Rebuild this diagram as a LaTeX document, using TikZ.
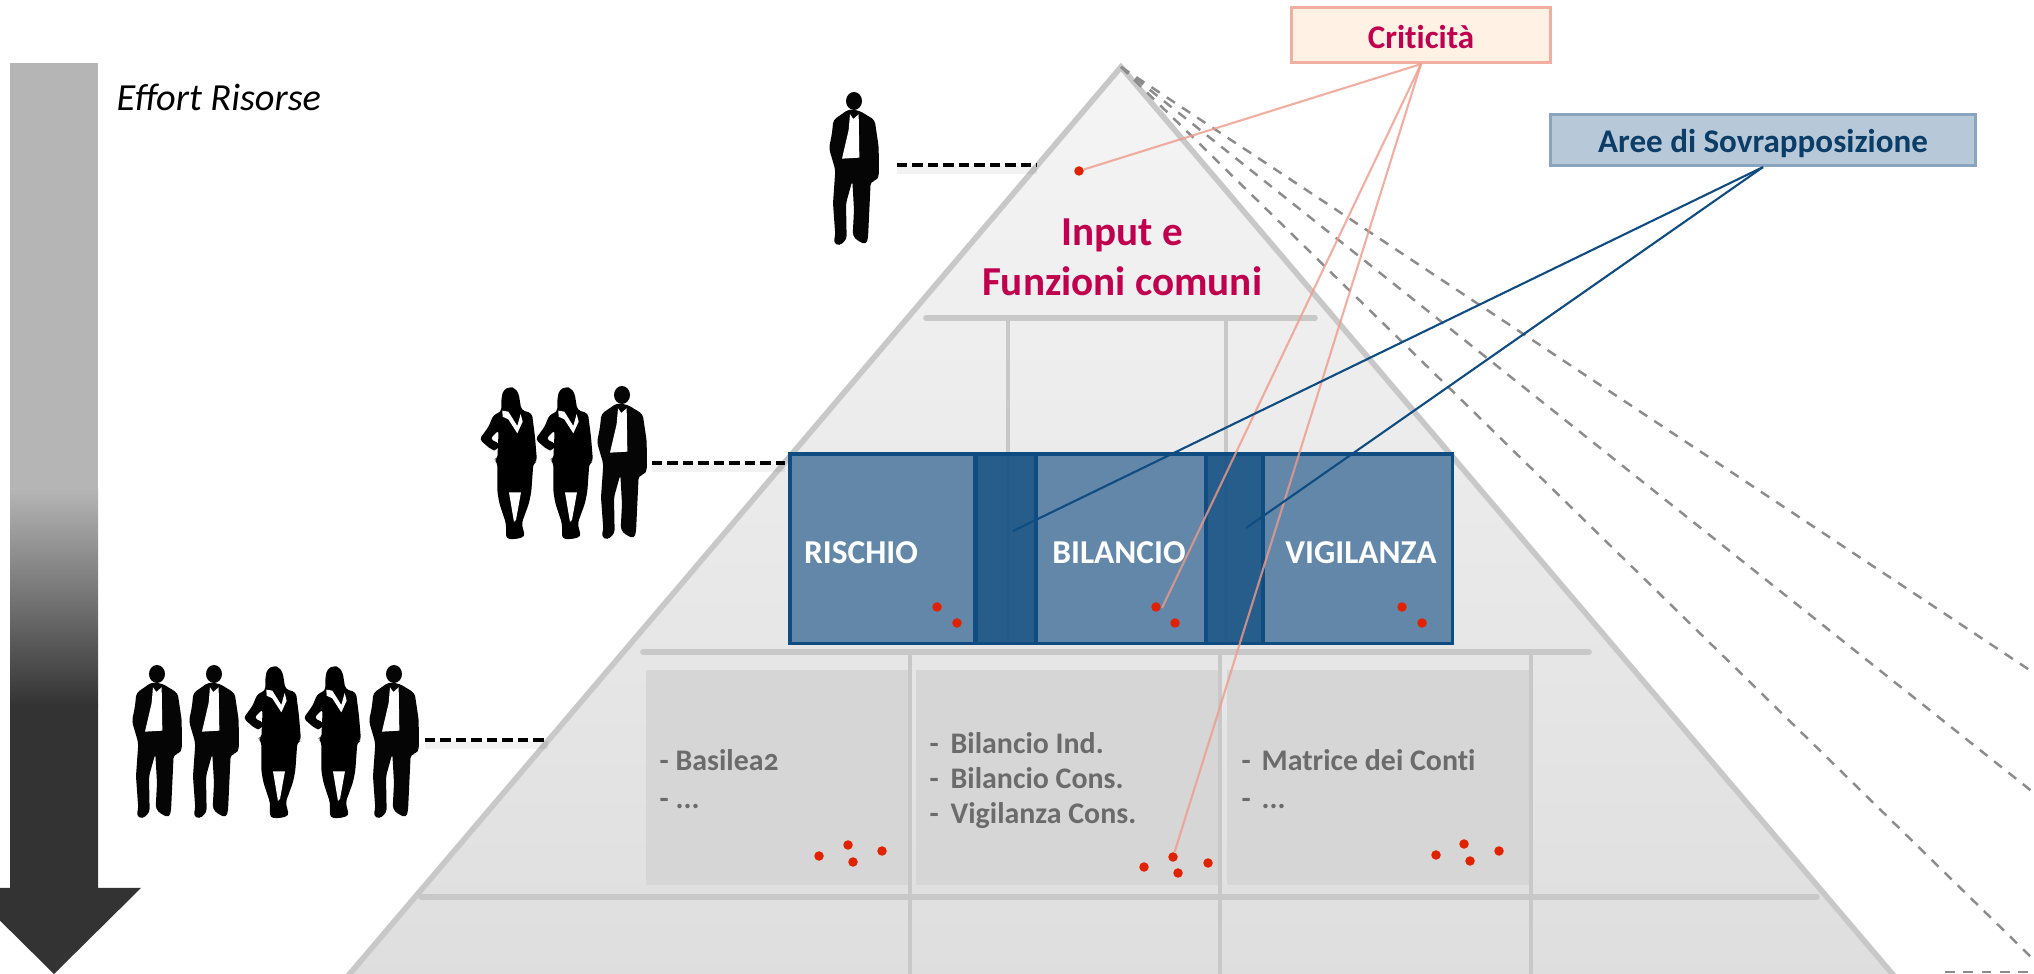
\documentclass[tikz,border=0pt]{standalone}
\usepackage{fontspec}
\setmainfont{Carlito}[Ligatures=NoCommon]
\usetikzlibrary{positioning}
\definecolor{pyrline}{HTML}{C8C8C8}
\definecolor{boxblue}{HTML}{6287A9}
\definecolor{boxdark}{HTML}{275D8B}
\definecolor{boxline}{HTML}{0F4C81}
\definecolor{cellgray}{HTML}{D6D6D6}
\definecolor{itemgray}{HTML}{6B6B6B}
\definecolor{dotred}{HTML}{E02200}
\definecolor{crimson}{HTML}{C0004E}
\definecolor{salmon}{HTML}{EF9A8A}
\tikzset{
	dotnode/.style={circle, fill=dotred, inner sep=0pt, minimum size=0.095cm},
	rulegray/.style={draw=pyrline, line width=1.6pt, line cap=round},
	stemgray/.style={draw=pyrline, line width=1.2pt},
	celbox/.style={fill=cellgray, inner sep=0pt, anchor=north west},
	regionbox/.style={draw=boxline, line width=0.9pt, inner sep=0pt, outer sep=0pt, anchor=north west},
	regiontext/.style={text=white, font=\fontsize{9.5}{11}\selectfont\bfseries},
	itemtext/.style={text=itemgray, anchor=base west, inner sep=0pt, font=\fontsize{8.5}{10}\selectfont\bfseries},
	tielink/.style={draw=black, line width=1.3pt, dash pattern=on 2.9pt off 1.5pt},
	tieshade/.style={draw=black, opacity=0.05, line width=2.4pt},
	rayline/.style={draw=black!45, line width=0.7pt, dash pattern=on 2.8pt off 2.4pt},
	pinklink/.style={draw=salmon, opacity=0.8, line width=0.6pt},
	bluelink/.style={draw=boxline, line width=0.6pt},
	manfig/.pic={
		\begin{scope}[scale=0.3333]
			\fill[black!98] (162,93) ellipse (24 and 27);
			\fill[black!98, rounded corners=1pt] (146,118) -- (100,150) -- (96,190) -- (87,235) -- (106,300)
				-- (99,400) -- (106,498) -- (100,518) -- (118,528) -- (140,508) -- (138,400) -- (157,332)
				-- (162,420) -- (158,497) -- (172,512) -- (198,524) -- (204,505) -- (212,335) -- (228,332)
				-- (237,318) -- (236,230) -- (224,150) -- (178,122) -- cycle;
			\fill[white] (150,133) -- (160,147) -- (176,133) -- (178,263) -- (126,266) -- (146,180) -- cycle;
		\end{scope}
	},
	womanfig/.pic={
		\begin{scope}[scale=0.3333]
			\fill[black, rounded corners=1pt] (210,50) -- (190,60) -- (184,85) -- (184,125) -- (160,135) -- (146,170)
				-- (118,208) -- (155,240) -- (170,242) -- (180,222) -- (150,207) -- (176,180) -- (172,268)
				-- (162,268) -- (172,278) -- (172,365) -- (178,400) -- (198,460) -- (198,506) -- (226,508)
				-- (255,500) -- (245,460) -- (267,400) -- (274,365) -- (280,280) -- (291,274) -- (285,200)
				-- (276,130) -- (244,120) -- (236,70) -- (225,55) -- cycle;
			\fill[white] (187,122) -- (205,125) -- (232,168) -- (242,132) -- (248,155) -- (232,190) -- (205,148) -- (188,140) -- cycle;
			\fill[white] (207,367) -- (243,367) -- (228,450) -- (222,456) -- cycle;
		\end{scope}
	}
}
\begin{document}
\begin{tikzpicture}[x=0.01cm, y=-0.01cm]
	\useasboundingbox (0,0) rectangle (2034,974);
	% left arrow
	\fill[black!29] (10,63) rectangle (98,490);
	\shade[top color=black!29, bottom color=black!80] (10,489) rectangle (98,706);
	\fill[black!80] (10,705) -- (98,705) -- (98,888) -- (141,888) -- (54,974) -- (-33,888) -- (10,888) -- cycle;
	\node[anchor=base west, inner sep=0pt, font=\fontsize{10.9}{12}\selectfont\itshape\addfontfeatures{Ligatures=Common}] (effort) at (116,111) {Effort Risorse};
	% pyramid
	\coordinate (apex) at (1121,67);
	\draw[pyrline, line width=1.6pt, line join=miter, top color=black!4, bottom color=black!13] (apex) -- (1906,990) -- (336,990) -- cycle;
	\draw[rulegray] (926,318) -- (1315,318);
	\draw[stemgray] (1008,320) -- (1008,456);
	\draw[stemgray] (1226,320) -- (1226,456);
	\draw[rulegray] (643,652) -- (1589,652);
	\draw[rulegray] (421,897) -- (1817,897);
	\node[celbox, minimum width=2.63cm, minimum height=2.15cm] (cellA) at (645,669) {};
	\node[celbox, minimum width=3.03cm, minimum height=2.15cm] (cellB) at (915,669) {};
	\node[celbox, minimum width=3.05cm, minimum height=2.15cm] (cellC) at (1226,669) {};
	\draw[stemgray] (910,654) -- (910,974);
	\draw[stemgray] (1220,654) -- (1220,974);
	\draw[stemgray] (1531,654) -- (1531,974);
	% region boxes
	\node[regionbox, fill=boxblue, minimum width=2.45cm, minimum height=1.89cm] (rischio) at (790,454) {};
	\node[regionbox, fill=boxblue, minimum width=2.46cm, minimum height=1.89cm] (vigilanza) at (1206,454) {};
	\node[regionbox, fill=boxblue, minimum width=2.88cm, minimum height=1.89cm] (bilancio) at (975,454) {};
	\node[regionbox, fill=boxdark, minimum width=0.60cm, minimum height=1.89cm] (overA) at (976,454) {};
	\node[regionbox, fill=boxdark, minimum width=0.57cm, minimum height=1.89cm] (overB) at (1206,454) {};
	\draw[stemgray, draw=boxline, opacity=0.15] (1008,456) -- (1008,641);
	\draw[stemgray, draw=boxline, opacity=0.15] (1226,456) -- (1226,641);
	\node[regiontext] (rischiolab) at (861,553) {RISCHIO};
	\node[regiontext] (bilanciolab) at (1119,553) {BILANCIO};
	\node[regiontext] (vigilanzalab) at (1361,553) {VIGILANZA};
	% texts
	\node[align=center, text=crimson, font=\fontsize{11.7}{14.2}\selectfont\bfseries] (inputlab) at (1122,257) {Input e\\Funzioni comuni};
	\node[itemtext] (itemAa) at (659,771) {- Basilea{\addfontfeatures{Numbers=OldStyle}2}};
	\node[itemtext] (itemAb) at (659,809) {- ...};
	\node[itemtext] (itemBa) at (929,754) {-};
	\node[itemtext] (itemBb) at (950,754) {Bilancio Ind.};
	\node[itemtext] (itemBc) at (929,789) {-};
	\node[itemtext] (itemBd) at (950,789) {Bilancio Cons.};
	\node[itemtext] (itemBe) at (929,824) {-};
	\node[itemtext] (itemBf) at (950,824) {Vigilanza Cons.};
	\node[itemtext] (itemCa) at (1241,771) {-};
	\node[itemtext] (itemCb) at (1261,771) {Matrice dei Conti};
	\node[itemtext] (itemCc) at (1241,809) {-};
	\node[itemtext] (itemCd) at (1261,809) {...};
	% red dots
	\node[dotnode] (dotTop) at (1079,171) {};
	\node[dotnode] (dotRa) at (937,607) {};
	\node[dotnode] (dotRb) at (957,623) {};
	\node[dotnode] (dotBa) at (1156,607) {};
	\node[dotnode] (dotBb) at (1175,623) {};
	\node[dotnode] (dotVa) at (1402,607) {};
	\node[dotnode] (dotVb) at (1422,623) {};
	\node[dotnode] (dotAa) at (819,856) {};
	\node[dotnode] (dotAb) at (848,845) {};
	\node[dotnode] (dotAc) at (853,862) {};
	\node[dotnode] (dotAd) at (882,851) {};
	\node[dotnode] (dotCa) at (1144,867) {};
	\node[dotnode] (dotCb) at (1173,857) {};
	\node[dotnode] (dotCc) at (1178,873) {};
	\node[dotnode] (dotCd) at (1208,863) {};
	\node[dotnode] (dotDa) at (1436,855) {};
	\node[dotnode] (dotDb) at (1464,844) {};
	\node[dotnode] (dotDc) at (1470,861) {};
	\node[dotnode] (dotDd) at (1499,851) {};
	% dashed rays
	\coordinate (rayA) at (2034,673);
	\coordinate (rayB) at (2034,793);
	\coordinate (rayC) at (2034,960);
	\coordinate (rayDa) at (1945,972);
	\coordinate (rayDb) at (2034,972);
	\draw[rayline] (apex) -- (rayA);
	\draw[rayline] (apex) -- (rayB);
	\draw[rayline] (apex) -- (rayC);
	\draw[rayline] (rayDa) -- (rayDb);
	% callout boxes
	\node[draw=salmon!80, fill=orange!10, line width=0.9pt, minimum width=2.59cm, minimum height=0.55cm, inner sep=0pt, text height=0.28cm, text depth=0pt, text=crimson, font=\fontsize{9.4}{11}\selectfont\bfseries] (criticita) at (1421,35) {Criticità};
	\node[draw=boxline!50, fill=boxline!30, line width=0.9pt, minimum width=4.24cm, minimum height=0.51cm, inner sep=0pt, text height=0.26cm, text depth=0pt, text=boxline!80!black, font=\fontsize{9.4}{11}\selectfont\bfseries] (aree) at (1763,140) {Aree di Sovrapposizione};
	\coordinate (areeA) at (1013,531);
	\coordinate (areeB) at (1246,528);
	\coordinate (critB) at (1162,608);
	\draw[pinklink] (criticita.south) -- (dotTop);
	\draw[pinklink] (criticita.south) -- (critB);
	\draw[pinklink] (criticita.south) -- (dotCb);
	\draw[bluelink] (aree.south) -- (areeA);
	\draw[bluelink] (aree.south) -- (areeB);
	% people
	\pic at (800,70) {manfig};
	\pic at (440,370) {womanfig};
	\pic at (496,370) {womanfig};
	\pic at (568,364) {manfig};
	\pic at (103,643) {manfig};
	\pic at (160,643) {manfig};
	\pic at (204,649) {womanfig};
	\pic at (264,649) {womanfig};
	\pic at (340,643) {manfig};
	% dashed ties
	\coordinate (tieAa) at (897,165);
	\coordinate (tieAb) at (1037,165);
	\coordinate (tieBa) at (652,463);
	\coordinate (tieBb) at (785,463);
	\coordinate (tieCa) at (425,740);
	\coordinate (tieCb) at (548,740);
	\draw[tieshade] ([yshift=-0.05cm]tieAa) -- ([yshift=-0.05cm]tieAb);
	\draw[tieshade] ([yshift=-0.05cm]tieBa) -- ([yshift=-0.05cm]tieBb);
	\draw[tieshade] ([yshift=-0.05cm]tieCa) -- ([yshift=-0.05cm]tieCb);
	\draw[tielink] (tieAa) -- (tieAb);
	\draw[tielink] (tieBa) -- (tieBb);
	\draw[tielink] (tieCa) -- (tieCb);
\end{tikzpicture}
\end{document}
